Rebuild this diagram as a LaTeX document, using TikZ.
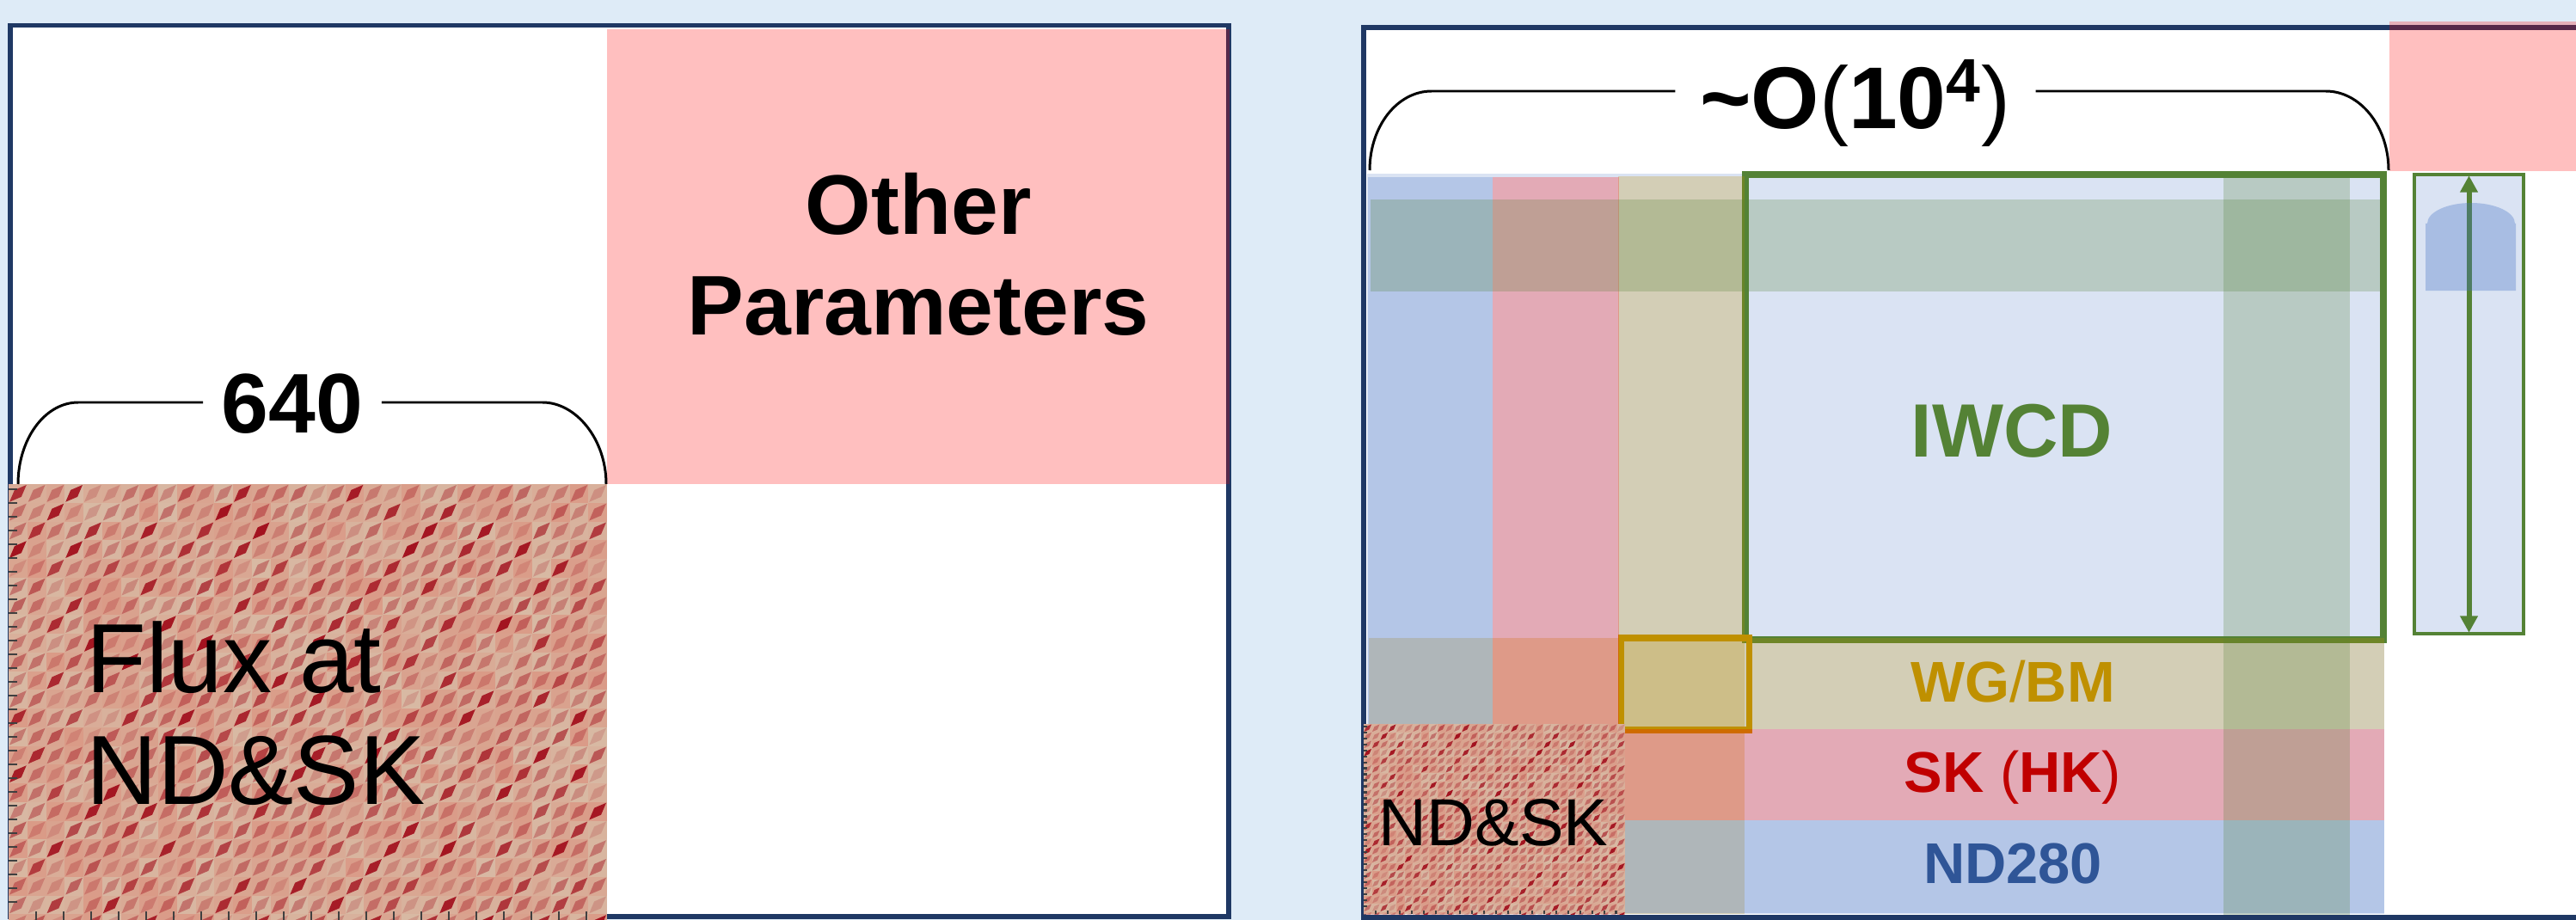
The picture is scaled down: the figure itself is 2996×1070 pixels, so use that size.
\documentclass[tikz,border=0pt]{standalone}
\usepackage{fontspec}
\setmainfont{Liberation Sans}
\usetikzlibrary{arrows.meta,positioning}

\definecolor{bgblue}{HTML}{DEEBF7}
\definecolor{framecol}{HTML}{1F3864}
\definecolor{accblue}{HTML}{4472C4}
\definecolor{accgreen}{HTML}{548235}
\definecolor{accgold}{HTML}{BF9000}
\definecolor{accred}{HTML}{FF0000}
\definecolor{txtred}{HTML}{C00000}
\definecolor{txtblue}{HTML}{2F5597}
\definecolor{ltblue}{HTML}{DAE3F3}
\definecolor{matbg}{HTML}{D8C0AA}
\definecolor{matred}{HTML}{DC8270}
\definecolor{matdark}{HTML}{A3121F}

\tikzset{
  panel/.style={draw=framecol, line width=1.7pt},
  band/.style={fill=#1, fill opacity=0.25},
  braceline/.style={draw=black, line width=0.85pt},
  biglbl/.style={font=\bfseries\fontsize{28}{34}\selectfont, inner sep=0pt},
  fluxlbl/.style={font=\fontsize{32.5}{38}\selectfont, inner sep=0pt},
  iwcdlbl/.style={font=\bfseries\fontsize{25}{30}\selectfont, text=accgreen, inner sep=0pt},
  rowlbl/.style={font=\bfseries\fontsize{19}{23}\selectfont, inner sep=0pt},
  ndsklbl/.style={font=\fontsize{22}{26}\selectfont, inner sep=0pt},
  ordlbl/.style={font=\bfseries\fontsize{29}{34}\selectfont, inner sep=0pt, inner xsep=8pt},
  detbox/.style={draw=accgreen, fill=ltblue, line width=1.2pt, minimum width=1.27cm, minimum height=5.34cm, inner sep=0pt},
  dblarrow/.style={draw=accgreen, line width=1.7pt, {Triangle[length=5.5pt,width=5.6pt]}-{Triangle[length=5.5pt,width=5.6pt]}},
  % correlation matrix picture, 696 x 507 px
  covmat/.pic={
    \clip (0,0) rectangle (696,507);
    \fill[matbg] (0,0) rectangle (696,507);
    \pgfmathsetseed{2023}
    \foreach \i in {0,...,31}{
      \foreach \j in {0,...,23}{
        \pgfmathsetmacro\blk{ifthenelse(mod(\i+\j,3)==0,1,0.45)}
        \pgfmathsetmacro\lite{0.1+0.5*rnd}
        \pgfmathsetmacro\dia{\blk*(0.35+0.65*rnd)}
        \fill[matred, fill opacity=\lite] (21.75*\i,21.75*\j) rectangle ++(21.75,21.75);
        \fill[matdark, fill opacity=\dia] (21.75*\i+1,21.75*\j+20.75) -- ++(5.9,-13.85)
          -- ++(13.85,-5.9) -- ++(-5.9,13.85) -- cycle;
      }
    }
    \foreach \t in {6,22,...,500}
      \draw[black!75, line width=0.6pt] (0,\t) -- (10,\t);
    \foreach \t in {32,64,...,680}
      \draw[black!75, line width=0.6pt] (\t,507) -- (\t,497);
  }
}

\begin{document}
\begin{tikzpicture}[x=0.01cm, y=-0.01cm]
  \useasboundingbox (0,0) rectangle (2996,1070);
  \fill[bgblue] (0,0) rectangle (2996,1070);

  % left panel
  \filldraw[fill=white, panel] (11.7,29.5) rectangle (1429,1066);
  \fill[band=accred] (706,34) rectangle (1430,563);
  \node[biglbl, anchor=base] (oth) at (1068,273) {Other};
  \node[biglbl, below=33pt of oth.base, anchor=base] (par) {Parameters};

  \pic at (10,563) {covmat};
  \node[fluxlbl, anchor=base west] (flx) at (100,805) {Flux at};
  \node[fluxlbl, below=37pt of flx.base west, anchor=base west] (fnd) {ND\&SK};

  \node[biglbl, inner xsep=6pt] (n640) at (340,470) {640};
  \coordinate (b640l) at (21,563);
  \coordinate (b640r) at (705,563);
  \draw[braceline] (b640l) .. controls +(0,-52) and +(-39,0) .. ++(70,-95) coordinate (b640lt)
    -- (b640lt -| n640.west);
  \draw[braceline] (b640r) .. controls +(0,-52) and +(39,0) .. ++(-74,-95) coordinate (b640rt)
    -- (b640rt -| n640.east);

  % right panel
  \filldraw[fill=white, panel] (1586,32) rectangle (3010,1067);
  \fill[band=accred] (2779,25) rectangle (3000,199);
  \fill[ltblue] (1590,202) rectangle (2773,1063);
  \draw[accgreen, line width=2.3pt] (2030,203) rectangle (2772,744);
  \fill[band=accgold] (1882,205) rectangle (2029,1063);
  \fill[band=accgold] (1592,742) rectangle (2773,848);
  \draw[accgold, line width=2pt] (1885,742) rectangle (2034,849);
  \fill[band=accred] (1736,206) rectangle (1883,1063);
  \fill[band=accred] (1592,848) rectangle (2773,954);
  \fill[band=accblue] (1591,206) rectangle (1736,1063);
  \fill[band=accblue] (1592,954) rectangle (2773,1062);
  \fill[band=accgreen] (1594,232) rectangle (2773,339);
  \fill[band=accgreen] (2586,203) rectangle (2733,1064);

  \node[iwcdlbl, anchor=base] (iwcd) at (2340,531) {IWCD};
  \node[rowlbl, text=accgold, anchor=base] (wgbm) at (2341,816) {WG{\mdseries/}BM};
  \node[rowlbl, text=txtred, below=30pt of wgbm.base, anchor=base] (skhk) {SK {\mdseries(}HK{\mdseries)}};
  \node[rowlbl, text=txtblue, below=30pt of skhk.base, anchor=base] (nd280) {ND280};

  \pic[scale=0.4368] at (1586,842) {covmat};
  \node[ndsklbl, anchor=base] (ndsk) at (1737,983) {ND\&SK};

  \node[ordlbl, anchor=base] (ord) at (2158,150) {\textasciitilde O{\mdseries(}10\textsuperscript{4}{\mdseries)}};
  \coordinate (bol) at (1593,198);
  \coordinate (bor) at (2778,198);
  \draw[braceline] (bol) .. controls +(0,-51) and +(-40,0) .. ++(72,-92) coordinate (bolt)
    -- (bolt -| ord.west);
  \draw[braceline] (bor) .. controls +(0,-51) and +(40,0) .. ++(-73,-92) coordinate (bort)
    -- (bort -| ord.east);

  % detector
  \node[detbox] (det) at (2871.5,470) {};
  \draw[dblarrow] ([yshift=-1pt]det.north) -- ([yshift=1pt]det.south);
  \fill[accblue, fill opacity=0.33] (2821,338) -- (2821,260) -- (2823,260)
    arc[start angle=180, end angle=360, x radius=51, y radius=24] -- (2926,260) -- (2926,338) -- cycle;
\end{tikzpicture}
\end{document}
